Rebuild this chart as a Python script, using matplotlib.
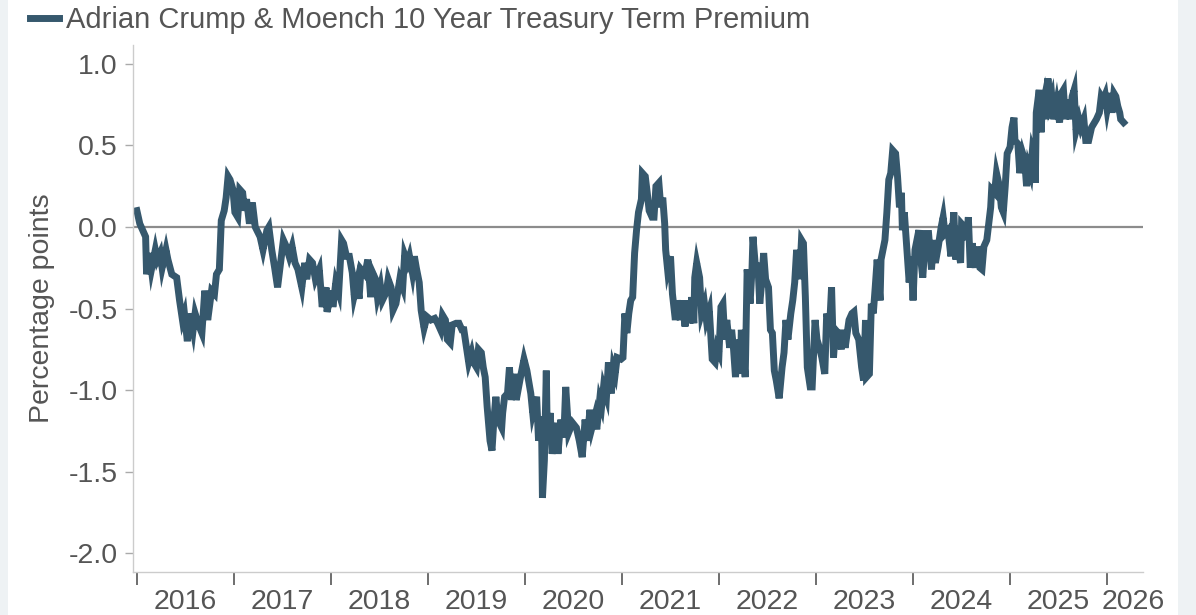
import matplotlib
matplotlib.use("Agg")
import matplotlib.pyplot as plt
from matplotlib.patches import Rectangle

# decimal year of each reading
years = [
    2016.00, 2016.03, 2016.06, 2016.09, 2016.10, 2016.13, 2016.15, 2016.19, 2016.21, 2016.24,
    2016.26, 2016.30, 2016.32, 2016.36, 2016.41, 2016.44, 2016.47, 2016.49, 2016.52, 2016.55,
    2016.58, 2016.60, 2016.63, 2016.67, 2016.70, 2016.73, 2016.77, 2016.80, 2016.82, 2016.85,
    2016.87, 2016.90, 2016.92, 2016.94, 2016.96, 2016.99, 2017.01, 2017.04, 2017.06, 2017.09,
    2017.11, 2017.13, 2017.16, 2017.19, 2017.22, 2017.27, 2017.30, 2017.34, 2017.36, 2017.39,
    2017.42, 2017.45, 2017.49, 2017.51, 2017.54, 2017.57, 2017.60, 2017.63, 2017.66, 2017.70,
    2017.73, 2017.75, 2017.78, 2017.81, 2017.84,
    2017.88, 2017.91, 2017.95, 2017.96, 2018.01, 2018.02, 2018.05, 2018.08, 2018.11, 2018.13,
    2018.16, 2018.19, 2018.22, 2018.24, 2018.27, 2018.29, 2018.31, 2018.35, 2018.38, 2018.41,
    2018.43, 2018.46, 2018.48, 2018.51, 2018.53, 2018.57, 2018.59, 2018.62, 2018.64, 2018.67,
    2018.71, 2018.74, 2018.76, 2018.79, 2018.81, 2018.84, 2018.86, 2018.88, 2018.91, 2018.93,
    2018.96, 2018.99, 2019.03, 2019.07, 2019.10, 2019.13, 2019.15, 2019.18, 2019.20, 2019.23,
    2019.25, 2019.29, 2019.32, 2019.35, 2019.37, 2019.40, 2019.42, 2019.45, 2019.47, 2019.50,
    2019.52, 2019.55, 2019.57, 2019.59, 2019.61, 2019.64, 2019.66, 2019.68, 2019.70, 2019.72,
    2019.76, 2019.77, 2019.79, 2019.82,
    2019.84, 2019.86, 2019.89, 2019.91, 2019.96, 2019.99, 2020.02, 2020.06, 2020.08, 2020.12,
    2020.14, 2020.17, 2020.18, 2020.20, 2020.22, 2020.23, 2020.26, 2020.28, 2020.32, 2020.34,
    2020.37, 2020.40, 2020.42, 2020.45, 2020.49, 2020.53, 2020.56, 2020.59, 2020.62, 2020.64,
    2020.67, 2020.69, 2020.72, 2020.74, 2020.77, 2020.79, 2020.81, 2020.84, 2020.86, 2020.89,
    2020.91, 2020.93, 2020.95, 2020.99, 2021.01, 2021.03, 2021.05, 2021.07, 2021.09, 2021.11,
    2021.13, 2021.15, 2021.17, 2021.20, 2021.21, 2021.24, 2021.26, 2021.28, 2021.31, 2021.33,
    2021.35, 2021.38, 2021.40, 2021.42, 2021.44, 2021.45, 2021.47, 2021.50, 2021.52, 2021.55,
    2021.57, 2021.60, 2021.62, 2021.65, 2021.67, 2021.70, 2021.72, 2021.74, 2021.75, 2021.77,
    2021.80, 2021.82, 2021.85, 2021.87, 2021.90, 2021.93, 2021.96, 2021.98,
    2022.00, 2022.02, 2022.04, 2022.06, 2022.08, 2022.11, 2022.13, 2022.15, 2022.17, 2022.19,
    2022.22, 2022.23, 2022.27, 2022.29, 2022.32, 2022.34, 2022.35, 2022.38, 2022.40, 2022.42,
    2022.44, 2022.46, 2022.48, 2022.51, 2022.53, 2022.55, 2022.57, 2022.59, 2022.62, 2022.65,
    2022.67, 2022.69, 2022.71, 2022.74, 2022.76, 2022.78, 2022.80, 2022.83, 2022.85, 2022.87,
    2022.89, 2022.91, 2022.94, 2022.96, 2022.99, 2023.01, 2023.04, 2023.06, 2023.09, 2023.11,
    2023.14, 2023.16, 2023.18, 2023.20, 2023.23, 2023.26, 2023.28, 2023.30, 2023.34, 2023.37,
    2023.39, 2023.41, 2023.44, 2023.47, 2023.49, 2023.51, 2023.52, 2023.55, 2023.57, 2023.59,
    2023.61, 2023.63, 2023.66, 2023.67, 2023.71, 2023.73, 2023.75, 2023.77, 2023.79, 2023.82,
    2023.84, 2023.86, 2023.88, 2023.89, 2023.91, 2023.93, 2023.96, 2023.98, 2024.00, 2024.02,
    2024.06, 2024.08, 2024.10, 2024.13,
    2024.16, 2024.19, 2024.21, 2024.23, 2024.26, 2024.29, 2024.31, 2024.33, 2024.36, 2024.39,
    2024.42, 2024.44, 2024.46, 2024.49, 2024.50, 2024.53, 2024.55, 2024.57, 2024.59, 2024.61,
    2024.64, 2024.66, 2024.69, 2024.71, 2024.73, 2024.76, 2024.78, 2024.80, 2024.81, 2024.84,
    2024.86, 2024.89, 2024.91, 2024.93, 2024.95, 2024.97, 2025.00, 2025.02, 2025.04, 2025.05,
    2025.08, 2025.10, 2025.13, 2025.15, 2025.17, 2025.19, 2025.21, 2025.23, 2025.25, 2025.26,
    2025.27, 2025.30, 2025.32, 2025.33, 2025.35, 2025.37, 2025.39, 2025.41, 2025.43, 2025.45,
    2025.48, 2025.51, 2025.53, 2025.55, 2025.57, 2025.59, 2025.62, 2025.64, 2025.66, 2025.68,
    2025.71, 2025.73, 2025.76, 2025.78, 2025.81, 2025.84, 2025.87, 2025.89, 2025.92, 2025.94,
    2025.96, 2025.98, 2026.00, 2026.03, 2026.05, 2026.07, 2026.09, 2026.11, 2026.13, 2026.14,
    2026.17,
]

# term premium, percentage points
premium = [
    0.10, 0.02, -0.02, -0.06, -0.29, -0.16, -0.26, -0.14, -0.20, -0.16,
    -0.25, -0.14, -0.20, -0.29, -0.31, -0.45, -0.57, -0.53, -0.70, -0.53,
    -0.63, -0.53, -0.59, -0.65, -0.39, -0.57, -0.39, -0.41, -0.29, -0.26,
    0.04, 0.10, 0.18, 0.31, 0.29, 0.23, 0.09, 0.06, 0.23, 0.21,
    0.10, 0.17, 0.02, 0.15, 0.00, -0.06, -0.14, -0.02, 0.00, -0.14,
    -0.25, -0.37, -0.18, -0.08, -0.12, -0.18, -0.12, -0.22, -0.26, -0.37,
    -0.22, -0.32, -0.20, -0.22, -0.32,
    -0.26, -0.49, -0.37, -0.52, -0.39, -0.49, -0.34, -0.40, -0.08, -0.10,
    -0.18, -0.18, -0.28, -0.42, -0.34, -0.44, -0.26, -0.29, -0.20, -0.43,
    -0.28, -0.32, -0.43, -0.36, -0.45, -0.40, -0.32, -0.37, -0.51, -0.47,
    -0.32, -0.37, -0.17, -0.22, -0.18, -0.28, -0.18, -0.25, -0.34, -0.51,
    -0.62, -0.55, -0.57, -0.56, -0.59, -0.63, -0.54, -0.57, -0.69, -0.71,
    -0.60, -0.59, -0.59, -0.63, -0.63, -0.75, -0.83, -0.77, -0.83, -0.86,
    -0.75, -0.77, -0.86, -0.92, -1.10, -1.31, -1.37, -1.18, -1.04, -1.18,
    -1.23, -1.14, -1.04, -1.02,
    -0.86, -1.06, -0.90, -1.06, -0.90, -0.81, -0.88, -1.02, -1.14, -1.04,
    -1.31, -1.16, -1.66, -1.43, -0.88, -1.29, -1.14, -1.39, -1.20, -1.39,
    -1.18, -1.29, -0.98, -1.26, -1.20, -1.23, -1.31, -1.41, -1.18, -1.31,
    -1.12, -1.23, -1.16, -1.24, -1.06, -1.10, -0.98, -1.04, -0.83, -1.02,
    -0.86, -0.90, -0.80, -0.81, -0.80, -0.53, -0.65, -0.53, -0.45, -0.43,
    -0.16, -0.02, 0.09, 0.17, 0.33, 0.31, 0.21, 0.10, 0.06, 0.06,
    0.25, 0.27, 0.12, 0.18, 0.02, -0.14, -0.26, -0.18, -0.41, -0.57,
    -0.45, -0.57, -0.45, -0.61, -0.45, -0.59, -0.43, -0.59, -0.31, -0.22,
    -0.31, -0.53, -0.47, -0.57, -0.51, -0.81, -0.83, -0.74,
    -0.77, -0.49, -0.47, -0.69, -0.57, -0.74, -0.63, -0.75, -0.92, -0.69,
    -0.90, -0.63, -0.92, -0.26, -0.47, -0.26, -0.06, -0.28, -0.22, -0.47,
    -0.34, -0.16, -0.32, -0.37, -0.63, -0.65, -0.88, -0.94, -1.05, -0.86,
    -0.77, -0.57, -0.69, -0.53, -0.45, -0.34, -0.14, -0.32, -0.08, -0.10,
    -0.43, -0.86, -0.98, -0.98, -0.57, -0.69, -0.75, -0.80, -0.90, -0.53,
    -0.61, -0.37, -0.80, -0.63, -0.65, -0.75, -0.63, -0.74, -0.57, -0.53,
    -0.52, -0.65, -0.69, -0.86, -0.94, -0.57, -0.92, -0.90, -0.47, -0.53,
    -0.37, -0.20, -0.45, -0.20, -0.08, 0.09, 0.29, 0.33, 0.47, 0.45,
    0.31, 0.12, 0.21, -0.02, 0.09, -0.08, -0.34, -0.18, -0.45, -0.14,
    -0.02, -0.20, -0.31, -0.04,
    -0.04, -0.26, -0.08, -0.22, -0.12, 0.00, 0.06, -0.04, -0.02, -0.18,
    0.09, -0.20, -0.12, -0.22, 0.02, 0.00, -0.08, 0.06, -0.25, -0.10,
    -0.25, -0.12, -0.25, -0.26, -0.12, -0.08, 0.02, 0.12, 0.23, 0.21,
    0.33, 0.25, 0.12, 0.09, 0.25, 0.45, 0.49, 0.61, 0.67, 0.53,
    0.51, 0.33, 0.45, 0.41, 0.25, 0.37, 0.33, 0.47, 0.43, 0.27,
    0.70, 0.84, 0.58, 0.72, 0.78, 0.66, 0.91, 0.76, 0.80, 0.66,
    0.76, 0.64, 0.82, 0.84, 0.66, 0.78, 0.66, 0.80, 0.84, 0.59,
    0.66, 0.61, 0.66, 0.53, 0.53, 0.61, 0.64, 0.66, 0.70, 0.80,
    0.78, 0.81, 0.72, 0.82, 0.70, 0.82, 0.80, 0.74, 0.70, 0.66,
    0.64,
]

year_labels = ["2016", "2017", "2018", "2019", "2020", "2021",
               "2022", "2023", "2024", "2025", "2026"]
label_pos = [2016.5, 2017.5, 2018.5, 2019.5, 2020.5, 2021.5,
             2022.5, 2023.5, 2024.5, 2025.5, 2026.27]
year_ticks = list(range(2016, 2027))
y_ticks = [1.0, 0.5, 0.0, -0.5, -1.0, -1.5, -2.0]

line_col = "#36586d"
text_col = "#555555"

plt.rcParams["font.family"] = ["Liberation Sans", "DejaVu Sans"]

fig = plt.figure(figsize=(11.96, 6.15), dpi=100)
fig.patch.set_facecolor("#eef2f4")
# white panel behind everything
fig.patches.append(Rectangle((8 / 1196, 0), 1170 / 1196, 1, transform=fig.transFigure,
                             facecolor="white", edgecolor="none", zorder=-10))

ax = fig.add_axes([133 / 1196, 1 - 572 / 615, 1010 / 1196, 527 / 615])
ax.set_zorder(2)
ax.set_facecolor("white")

ax.axhline(0, color="#8c8c8c", lw=1.6, zorder=1)
ax.plot(years, premium, color=line_col, lw=5, solid_joinstyle="miter", zorder=2,
        label="Adrian Crump & Moench 10 Year Treasury Term Premium")

ax.set_xlim(2015.96, 2026.37)
ax.set_ylim(-2.114, 1.115)

ax.set_yticks(y_ticks)
ax.set_yticklabels([f"{v:.1f}" for v in y_ticks])
ax.tick_params(axis="y", length=6, width=1, color="#aaaaaa", pad=5,
               labelsize=20.5, labelcolor=text_col)

ax.set_xticks(year_ticks)
ax.set_xticklabels([])
ax.set_xticks(label_pos, minor=True)
ax.set_xticklabels(year_labels, minor=True)
ax.tick_params(axis="x", which="major", length=9, width=1.2, color="#555555")
ax.tick_params(axis="x", which="minor", length=0, pad=12,
               labelsize=20.5, labelcolor=text_col)

for side in ["top", "right"]:
    ax.spines[side].set_visible(False)
for side in ["left", "bottom"]:
    ax.spines[side].set_color("#cccccc")
    ax.spines[side].set_linewidth(1)

ax.set_ylabel("Percentage points", fontsize=20.5, color=text_col, labelpad=10)

leg = fig.legend(loc="upper left", bbox_to_anchor=(30 / 1196, 0.99), frameon=False,
                 fontsize=21, handlelength=1.0, handletextpad=0.25,
                 borderaxespad=0, borderpad=0)
for t in leg.get_texts():
    t.set_color(text_col)

fig.savefig("out.png", dpi=100, facecolor=fig.get_facecolor())
